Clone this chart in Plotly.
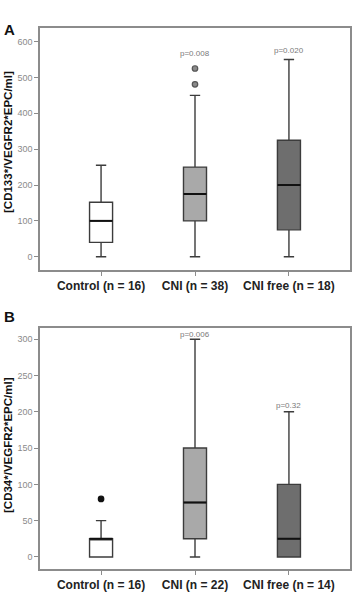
import plotly.graph_objects as go

categories = ["Control (n = 16)", "CNI (n = 38)", "CNI free (n = 18)"]
categories_b = ["Control (n = 16)", "CNI (n = 22)", "CNI free (n = 14)"]

# Panel A box statistics
a_low = [0, 0, 0]
a_q1 = [40, 100, 75]
a_med = [100, 175, 200]
a_q3 = [152, 250, 325]
a_high = [255, 450, 550]
a_out_x = [1, 1]
a_out_y = [481, 525]
a_p_text = ["", "p=0.008", "p=0.020"]
a_p_y = [None, 566, 576]

# Panel B box statistics
b_low = [0, 0, 0]
b_q1 = [0, 25, 0]
b_med = [25, 75, 25]
b_q3 = [25, 150, 100]
b_high = [50, 300, 200]
b_out_x = [0]
b_out_y = [80]
b_p_text = ["", "p=0.006", "p=0.32"]
b_p_y = [None, 307, 209]

fills = ["#ffffff", "#a9a9a9", "#6e6e6e"]
pos = [0, 1, 2]

fig = go.Figure()

def add_panel(xa, ya, low, q1, med, q3, high, ox, oy, ptext, py, outcolor, outline):
    for i in range(3):
        fig.add_trace(go.Box(
            x=[pos[i]], q1=[q1[i]], median=[med[i]], q3=[q3[i]],
            lowerfence=[low[i]], upperfence=[high[i]],
            fillcolor=fills[i], line=dict(color="#3c3c3c", width=1.4),
            width=0.245, whiskerwidth=0.45, boxpoints=False,
            xaxis=xa, yaxis=ya, showlegend=False, hoverinfo="skip"))
        # emphasise median
        fig.add_trace(go.Scatter(
            x=[pos[i] - 0.1225, pos[i] + 0.1225], y=[med[i], med[i]],
            mode="lines", line=dict(color="#111111", width=2),
            xaxis=xa, yaxis=ya, showlegend=False, hoverinfo="skip"))
    fig.add_trace(go.Scatter(
        x=ox, y=oy, mode="markers",
        marker=dict(size=5.5, color=outcolor, line=dict(color=outline, width=1.2)),
        xaxis=xa, yaxis=ya, showlegend=False, hoverinfo="skip"))
    for i in range(3):
        if ptext[i]:
            fig.add_annotation(x=pos[i], y=py[i], xref=xa, yref=ya,
                               text=ptext[i], showarrow=False,
                               font=dict(family="Liberation Sans, Arial", size=8, color="#7a7a7a"))

add_panel("x", "y", a_low, a_q1, a_med, a_q3, a_high, a_out_x, a_out_y,
          a_p_text, a_p_y, "#8a8a8a", "#555555")
add_panel("x2", "y2", b_low, b_q1, b_med, b_q3, b_high, b_out_x, b_out_y,
          b_p_text, b_p_y, "#111111", "#111111")

W, H = 354, 598
xdom = [40 / W, 350 / W]
ydomA = [1 - 270 / H, 1 - 28 / H]
ydomB = [1 - 569.3 / H, 1 - 328.3 / H]

axis_common = dict(showline=True, linecolor="#8c8c8c", linewidth=1.5, mirror=True,
                   showgrid=False, zeroline=False, ticks="outside", ticklen=4,
                   tickcolor="#8c8c8c", tickwidth=1.2)
tickfont_y = dict(family="Liberation Sans, Arial", size=9, color="#8a8a8a")
tickfont_x = dict(family="Liberation Sans, Arial", size=12, color="#222222", weight="bold")

fig.update_layout(
    width=W, height=H, margin=dict(l=0, r=0, t=0, b=0),
    plot_bgcolor="white", paper_bgcolor="white",
    xaxis=dict(domain=xdom, anchor="y", range=[-0.65, 2.65], tickvals=pos,
               ticktext=categories, tickfont=tickfont_x, **axis_common),
    yaxis=dict(domain=ydomA, anchor="x", range=[-37, 638], tickvals=[0, 100, 200, 300, 400, 500, 600],
               tickfont=tickfont_y, **axis_common),
    xaxis2=dict(domain=xdom, anchor="y2", range=[-0.65, 2.65], tickvals=pos,
                ticktext=categories_b, tickfont=tickfont_x, **axis_common),
    yaxis2=dict(domain=ydomB, anchor="x2", range=[-17, 315], tickvals=[0, 50, 100, 150, 200, 250, 300],
                tickfont=tickfont_y, **axis_common),
)

lab_font = dict(family="Liberation Sans, Arial", size=11.5, color="#111111", weight="bold")
fig.add_annotation(x=8 / W, y=1 - 142 / H, xref="paper", yref="paper", showarrow=False,
                   xanchor="center", yanchor="middle",
                   text="[CD133*/VEGFR2*EPC/ml]", textangle=-90, font=lab_font)
fig.add_annotation(x=8 / W, y=1 - 445 / H, xref="paper", yref="paper", showarrow=False,
                   xanchor="center", yanchor="middle",
                   text="[CD34*/VEGFR2*EPC/ml]", textangle=-90, font=lab_font)
panel_font = dict(family="Liberation Sans, Arial", size=15, color="#111111", weight="bold")
fig.add_annotation(x=2 / W, y=1 - 19 / H, xref="paper", yref="paper", showarrow=False,
                   xanchor="left", text="A", font=panel_font)
fig.add_annotation(x=2 / W, y=1 - 316 / H, xref="paper", yref="paper", showarrow=False,
                   xanchor="left", text="B", font=panel_font)

fig.write_html("out.html")
